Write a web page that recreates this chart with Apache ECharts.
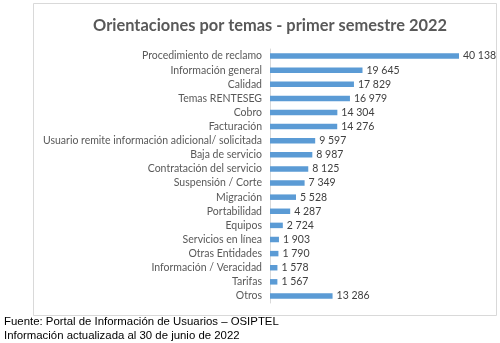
<!DOCTYPE html>
<html>
<head>
<meta charset="utf-8">
<style>
  html, body { margin: 0; padding: 0; background: #ffffff; }
  #chart { width: 500px; height: 343px; }
</style>
<script src="https://cdn.jsdelivr.net/npm/echarts@6/dist/echarts.min.js"></script>
</head>
<body>
<div id="chart"></div>
<script>
// Topics consulted by users, first half of 2022
const temas = [
  'Procedimiento de reclamo',
  'Información general',
  'Calidad',
  'Temas RENTESEG',
  'Cobro',
  'Facturación',
  'Usuario remite información adicional/ solicitada',
  'Baja de servicio',
  'Contratación del servicio',
  'Suspensión / Corte',
  'Migración',
  'Portabilidad',
  'Equipos',
  'Servicios en línea',
  'Otras Entidades',
  'Información / Veracidad',
  'Tarifas',
  'Otros'
];
const orientaciones = [40138, 19645, 17829, 16979, 14304, 14276, 9597, 8987, 8125, 7349, 5528, 4287, 2724, 1903, 1790, 1578, 1567, 13286];

const titulo = 'Orientaciones por temas - primer semestre 2022';
const fuente = 'Fuente: Portal de Información de Usuarios – OSIPTEL';
const actualizacion = 'Información actualizada al 30 de junio de 2022';

// thousands separated by a space, e.g. 40 138
function miles(v) {
  return String(v).replace(/\B(?=(\d{3})+(?!\d))/g, ' ');
}

const chart = echarts.init(document.getElementById('chart'), null, { renderer: 'canvas' });
chart.setOption({
  animation: false,
  backgroundColor: '#ffffff',
  title: {
    text: titulo,
    left: 265,
    top: 13,
    textAlign: 'center',
    textStyle: { fontFamily: 'Lato', fontSize: 16.4, fontWeight: 'bold', color: '#595959' }
  },
  grid: { left: 270, right: 41, top: 49, bottom: 40, containLabel: false },
  xAxis: {
    type: 'value',
    min: 0,
    max: 40138,
    show: false
  },
  yAxis: {
    type: 'category',
    data: temas,
    inverse: true,
    axisLine: { show: true, lineStyle: { color: '#d9d9d9', width: 1 } },
    axisTick: { show: false },
    axisLabel: {
      interval: 0,
      margin: 8,
      fontFamily: 'Lato',
      fontSize: 10.5,
      color: '#595959'
    }
  },
  series: [{
    type: 'bar',
    data: orientaciones,
    barWidth: 5.5,
    itemStyle: { color: '#5b9bd5' },
    label: {
      show: true,
      position: 'right',
      distance: 4,
      fontFamily: 'Lato',
      fontSize: 10.5,
      color: '#404040',
      formatter: p => miles(p.value)
    }
  }],
  graphic: [
    {
      type: 'rect',
      shape: { x: 33.5, y: 3.5, width: 463, height: 312 },
      style: { fill: 'none', stroke: '#d9d9d9', lineWidth: 1 },
      z: -1
    },
    {
      type: 'text',
      left: 4,
      top: 316,
      style: { text: fuente, font: '11.4px "Liberation Sans"', fill: '#000000' }
    },
    {
      type: 'text',
      left: 4,
      top: 330,
      style: { text: actualizacion, font: '11.4px "Liberation Sans"', fill: '#000000' }
    }
  ]
});
</script>
</body>
</html>
